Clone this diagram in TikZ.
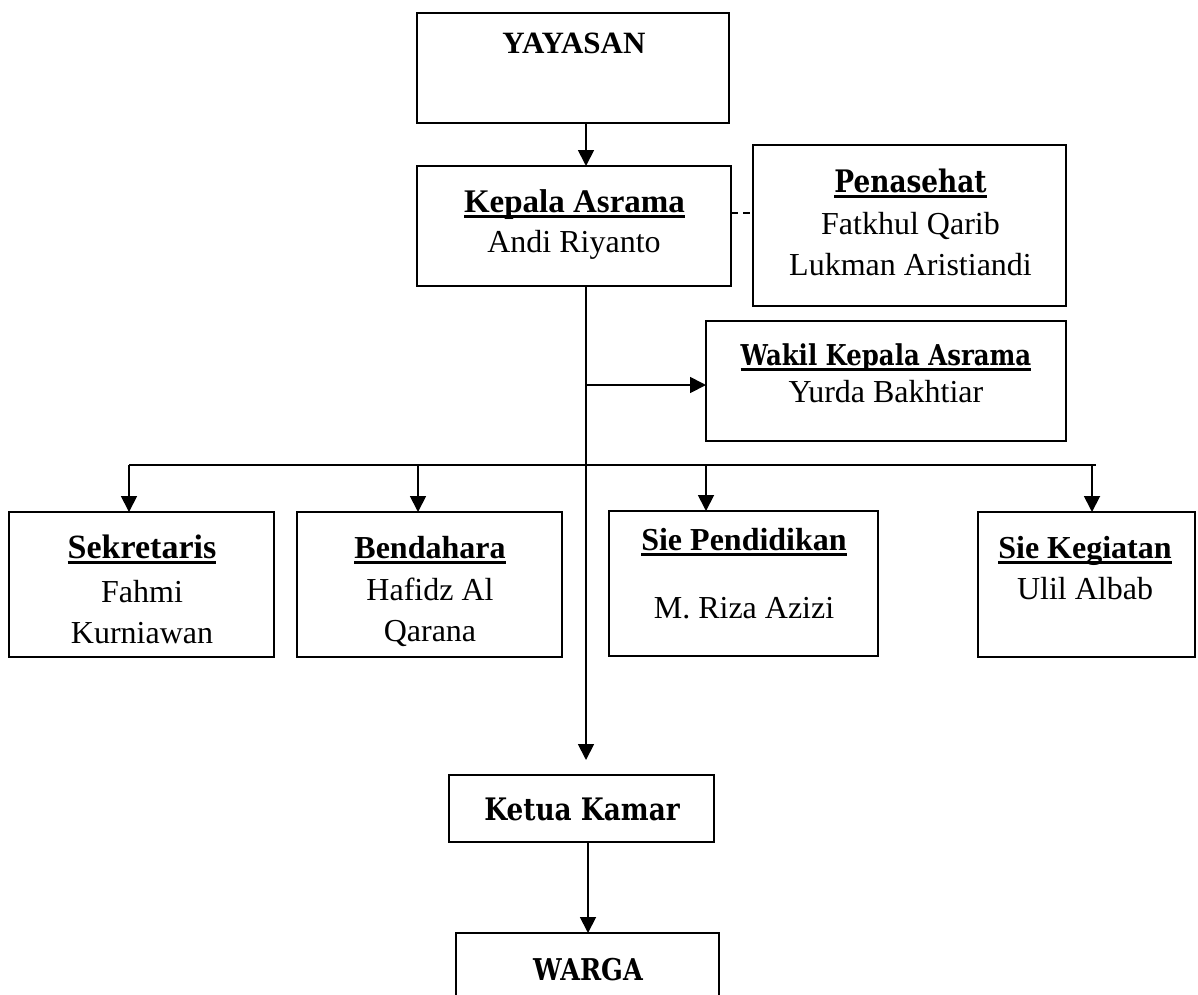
\documentclass[tikz,border=0pt]{standalone}
\usepackage{fontspec}
\setmainfont{Liberation Serif}
\newfontfamily\camfont[FakeStretch=0.85]{DejaVu Serif}
\usetikzlibrary{arrows.meta}
\newcommand{\myul}[1]{\setbox0\hbox{#1}\rlap{\rule[-6pt]{\wd0}{2.6pt}}\box0}
\begin{document}
\begin{tikzpicture}[x=1pt,y=-1pt,
  box/.style={draw, line width=1.8pt, inner sep=0pt, outer sep=0pt},
  arr/.style={line width=1.8pt, -{Triangle[width=16pt,length=16pt]}},
  ln/.style={line width=1.8pt},
  tx/.style={anchor=base, inner sep=0pt, font=\fontsize{32}{38}\selectfont},
  tb/.style={anchor=base, inner sep=0pt, font=\fontsize{32}{38}\selectfont\bfseries},
  tc/.style={anchor=base, inner sep=0pt, font=\fontsize{30}{36}\selectfont\camfont\bfseries}]
\useasboundingbox (0,0) rectangle (1198,994);
\clip (0,0) rectangle (1198,994);
% boxes
\node[box, minimum width=312pt, minimum height=110pt] (yay) at (573,68) {};
\node[box, minimum width=314pt, minimum height=120pt] (kep) at (574,226) {};
\node[box, minimum width=313pt, minimum height=161pt] (pen) at (909.5,225.5) {};
\node[box, minimum width=360pt, minimum height=120pt] (wak) at (886,381) {};
\node[box, minimum width=265pt, minimum height=145pt] (sek) at (141.5,584.5) {};
\node[box, minimum width=265pt, minimum height=145pt] (ben) at (429.5,584.5) {};
\node[box, minimum width=269pt, minimum height=145pt] (pend) at (743.5,583.5) {};
\node[box, minimum width=217pt, minimum height=145pt] (keg) at (1086.5,584.5) {};
\node[box, minimum width=265pt, minimum height=67pt] (ket) at (581.5,808.5) {};
\node[box, minimum width=263pt, minimum height=77pt] (war) at (587.5,971.5) {};
% texts
\node[tb, font=\fontsize{31}{38}\selectfont\bfseries] (tyay) at (574,53) {YAYASAN};
\node[tb, font=\fontsize{33}{38}\selectfont\bfseries] (tkep1) at (574.5,212) {\myul{Kepala Asrama}};
\node[tx] (tkep2) at (574,252) {Andi Riyanto};
\node[tc, font=\fontsize{31}{36}\selectfont\camfont\bfseries] (tpen1) at (910.5,192) {\myul{Penasehat}};
\node[tx] (tpen2) at (910.5,234) {Fatkhul Qarib};
\node[tx] (tpen3) at (910.5,275) {Lukman Aristiandi};
\node[tc, font=\fontsize{28.7}{34}\selectfont\camfont\bfseries] (twak1) at (886,365) {\myul{Wakil Kepala Asrama}};
\node[tx] (twak2) at (886,402) {Yurda Bakhtiar};
\node[tb, font=\fontsize{34}{38}\selectfont\bfseries] (tsek1) at (142,558) {\myul{Sekretaris}};
\node[tx] (tsek2) at (142,602) {Fahmi};
\node[tx] (tsek3) at (142,643) {Kurniawan};
\node[tb] (tben1) at (430,558) {\myul{Bendahara}};
\node[tx] (tben2) at (430,600) {Hafidz Al};
\node[tx] (tben3) at (430,641) {Qarana};
\node[tb] (tpend1) at (744,550) {\myul{Sie Pendidikan}};
\node[tx] (tpend2) at (744,618) {M. Riza Azizi};
\node[tb] (tkeg1) at (1085,558) {\myul{Sie Kegiatan}};
\node[tx] (tkeg2) at (1085,599) {Ulil Albab};
\node[tc, font=\fontsize{31}{36}\selectfont\camfont\bfseries] (tket) at (582,820) {Ketua Kamar};
\node[tc] (twar) at (588,980) {WARGA};
% coordinates
\coordinate (trunk) at (586,0);
\coordinate (kend) at (586,760);
\coordinate (wj) at (586,385);
\coordinate (busL) at (129,465);
\coordinate (busR) at (1096,465);
\coordinate (bA) at (418,465);
\coordinate (pA) at (706,465);
\coordinate (kA) at (1092,465);
\coordinate (dl) at (0,213);
\coordinate (wx) at (588,0);
% connectors
\draw[arr] (yay.south -| trunk) -- (kep.north -| trunk);
\draw[arr] (kep.south -| trunk) -- (kend);
\draw[arr] (wj) -- (wak.west |- wj);
\draw[ln] (busL) -- (busR);
\draw[arr] (busL) -- (sek.north -| busL);
\draw[arr] (bA) -- (ben.north -| bA);
\draw[arr] (pA) -- (pend.north -| pA);
\draw[arr] (kA) -- (keg.north -| kA);
\draw[ln, dash pattern=on 7pt off 5pt] (kep.east |- dl) -- (pen.west |- dl);
\draw[arr] (ket.south -| wx) -- (war.north -| wx);
\end{tikzpicture}
\end{document}
